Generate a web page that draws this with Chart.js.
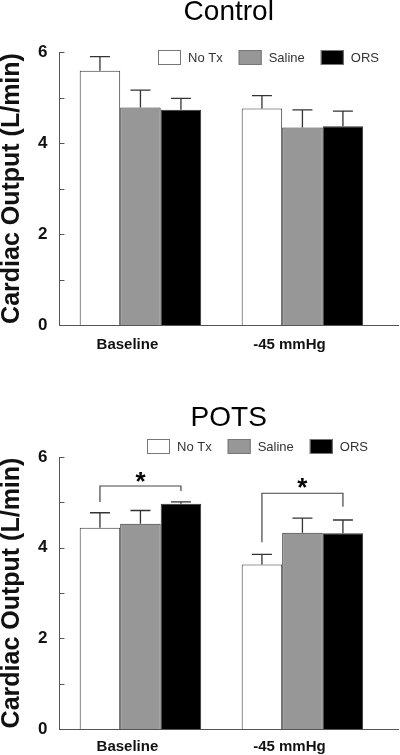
<!DOCTYPE html>
<html>
<head>
<meta charset="utf-8">
<script src="https://cdn.jsdelivr.net/npm/chart.js@4.4.0/dist/chart.umd.min.js"></script>
<style>
    body { margin: 0; background: #fff; }
    canvas { display: block; }
</style>
</head>
<body>
<canvas id="control" width="400" height="370"></canvas>
<canvas id="pots" width="400" height="385"></canvas>
<script>
// categories and series
const groups = ['Baseline', '-45 mmHg'];
const seriesNames = ['No Tx', 'Saline', 'ORS'];
const seriesColors = ['#ffffff', '#979797', '#000000'];

// Control (L/min), mean and upper error (SEM)
const controlNoTx = [5.59, 4.76];
const controlSaline = [4.78, 4.34];
const controlORS = [4.73, 4.37];
const controlNoTxErr = [0.31, 0.28];
const controlSalineErr = [0.38, 0.39];
const controlORSErr = [0.25, 0.33];

// POTS (L/min)
const potsNoTx = [4.44, 3.63];
const potsSaline = [4.53, 4.33];
const potsORS = [4.97, 4.32];
const potsNoTxErr = [0.33, 0.22];
const potsSalineErr = [0.29, 0.32];
const potsORSErr = [0.04, 0.29];

// significance brackets (value units): group, first/last series, top, leg ends, star
const potsBrackets = [
    { group: 0, from: 0, to: 2, top: 5.36, leftEnd: 5.01, rightEnd: 5.25, star: 5.57 },
    { group: 1, from: 0, to: 2, top: 5.20, leftEnd: 4.12, rightEnd: 4.90, star: 5.44 }
];

Chart.defaults.font.family = 'Arial, "Liberation Sans", sans-serif';
Chart.defaults.color = '#111';

// error bars, inward ticks, brackets and the legend
const extras = {
    id: 'extras',
    afterDatasetsDraw(chart, args, opts) {
        const ctx = chart.ctx;
        const y = chart.scales.y;
        const area = chart.chartArea;
        ctx.save();

        ctx.strokeStyle = '#333';
        ctx.lineWidth = 1.3;
        chart.data.datasets.forEach((ds, di) => {
            chart.getDatasetMeta(di).data.forEach((bar, i) => {
                const top = y.getPixelForValue(ds.data[i].y + ds.err[i]);
                ctx.beginPath();
                ctx.moveTo(bar.x, bar.y);
                ctx.lineTo(bar.x, top);
                ctx.moveTo(bar.x - 10, top);
                ctx.lineTo(bar.x + 10, top);
                ctx.stroke();
            });
        });

        ctx.strokeStyle = '#555';
        ctx.lineWidth = 1;
        y.ticks.forEach(t => {
            const py = Math.round(y.getPixelForValue(t.value)) + 0.5;
            ctx.beginPath();
            ctx.moveTo(area.left, py);
            ctx.lineTo(area.left + 5, py);
            ctx.stroke();
        });

        (opts.brackets || []).forEach(b => {
            const x1 = chart.getDatasetMeta(b.from).data[b.group].x;
            const x2 = chart.getDatasetMeta(b.to).data[b.group].x;
            const yt = y.getPixelForValue(b.top);
            ctx.strokeStyle = '#444';
            ctx.lineWidth = 1.2;
            ctx.beginPath();
            ctx.moveTo(x1, y.getPixelForValue(b.leftEnd));
            ctx.lineTo(x1, yt);
            ctx.lineTo(x2, yt);
            ctx.lineTo(x2, y.getPixelForValue(b.rightEnd));
            ctx.stroke();
            ctx.fillStyle = '#000';
            ctx.font = 'bold 26px Arial, "Liberation Sans", sans-serif';
            ctx.textAlign = 'center';
            ctx.textBaseline = 'alphabetic';
            ctx.fillText('*', (x1 + x2) / 2, y.getPixelForValue(b.star) + 14);
        });

        if (opts.legend) {
            let x = opts.legend.x;
            const ly = opts.legend.y;
            ctx.font = '13px Arial, "Liberation Sans", sans-serif';
            ctx.textAlign = 'left';
            ctx.textBaseline = 'middle';
            chart.data.datasets.forEach(ds => {
                ctx.fillStyle = ds.backgroundColor;
                ctx.fillRect(x, ly, 23, 15);
                ctx.strokeStyle = '#777';
                ctx.lineWidth = 1;
                ctx.strokeRect(x + 0.5, ly + 0.5, 22, 14);
                ctx.fillStyle = '#333';
                ctx.fillText(ds.label, x + 30, ly + 8);
                x += 30 + ctx.measureText(ds.label).width + 16;
            });
        }
        ctx.restore();
    }
};

function makeChart(id, title, values, errs, o) {
    const datasets = seriesNames.map((name, s) => ({
        label: name,
        data: values[s].map((v, i) => ({ x: i + 0.5, y: v })),
        err: errs[s],
        backgroundColor: seriesColors[s],
        borderColor: '#333',
        borderWidth: 1,
        barPercentage: 1,
        categoryPercentage: 0.75
    }));
    return new Chart(document.getElementById(id), {
        type: 'bar',
        data: { datasets: datasets },
        plugins: [extras],
        options: {
            responsive: false,
            animation: false,
            layout: { padding: { left: 0, right: 2, top: 0, bottom: o.bottomPad } },
            scales: {
                x: {
                    type: 'linear',
                    min: 0,
                    max: 2.09,
                    bounds: 'data',
                    offset: false,
                    grid: { display: false, drawTicks: false, offset: false },
                    border: { color: '#555' },
                    afterBuildTicks: s => { s.ticks = groups.map((g, i) => ({ value: i + 0.5 })); },
                    ticks: {
                        callback: (v, i) => groups[i],
                        padding: o.xPad,
                        labelOffset: -13,
                        maxRotation: 0,
                        autoSkip: false,
                        color: '#111',
                        font: { size: 15, weight: 'bold' }
                    }
                },
                y: {
                    min: 0,
                    max: 6,
                    grid: { display: false, drawTicks: false },
                    border: { color: '#555' },
                    ticks: {
                        stepSize: 1,
                        callback: v => (v % 2 === 0 ? v : ''),
                        padding: 12,
                        color: '#111',
                        font: { size: 17, weight: 'bold' }
                    },
                    title: {
                        display: true,
                        text: 'Cardiac Output (L/min)',
                        color: '#111',
                        font: { size: 25, weight: 'bold', lineHeight: 1 },
                        padding: { top: 0, bottom: 1 }
                    }
                }
            },
            plugins: {
                legend: { display: false },
                tooltip: { enabled: false },
                title: {
                    display: true,
                    text: title,
                    fullSize: false,
                    color: '#000',
                    font: { size: 28, weight: 'normal', lineHeight: 1 },
                    padding: o.titlePad
                },
                extras: { legend: o.legend, brackets: o.brackets }
            }
        }
    });
}

makeChart('control', 'Control',
    [controlNoTx, controlSaline, controlORS],
    [controlNoTxErr, controlSalineErr, controlORSErr],
    { bottomPad: 5, xPad: 11, titlePad: { top: -2, bottom: 26 }, legend: { x: 158, y: 50 }, brackets: [] });

makeChart('pots', 'POTS',
    [potsNoTx, potsSaline, potsORS],
    [potsNoTxErr, potsSalineErr, potsORSErr],
    { bottomPad: -9, xPad: 8.5, titlePad: { top: 34, bottom: 25 }, legend: { x: 147, y: 69 }, brackets: potsBrackets });
</script>
</body>
</html>
